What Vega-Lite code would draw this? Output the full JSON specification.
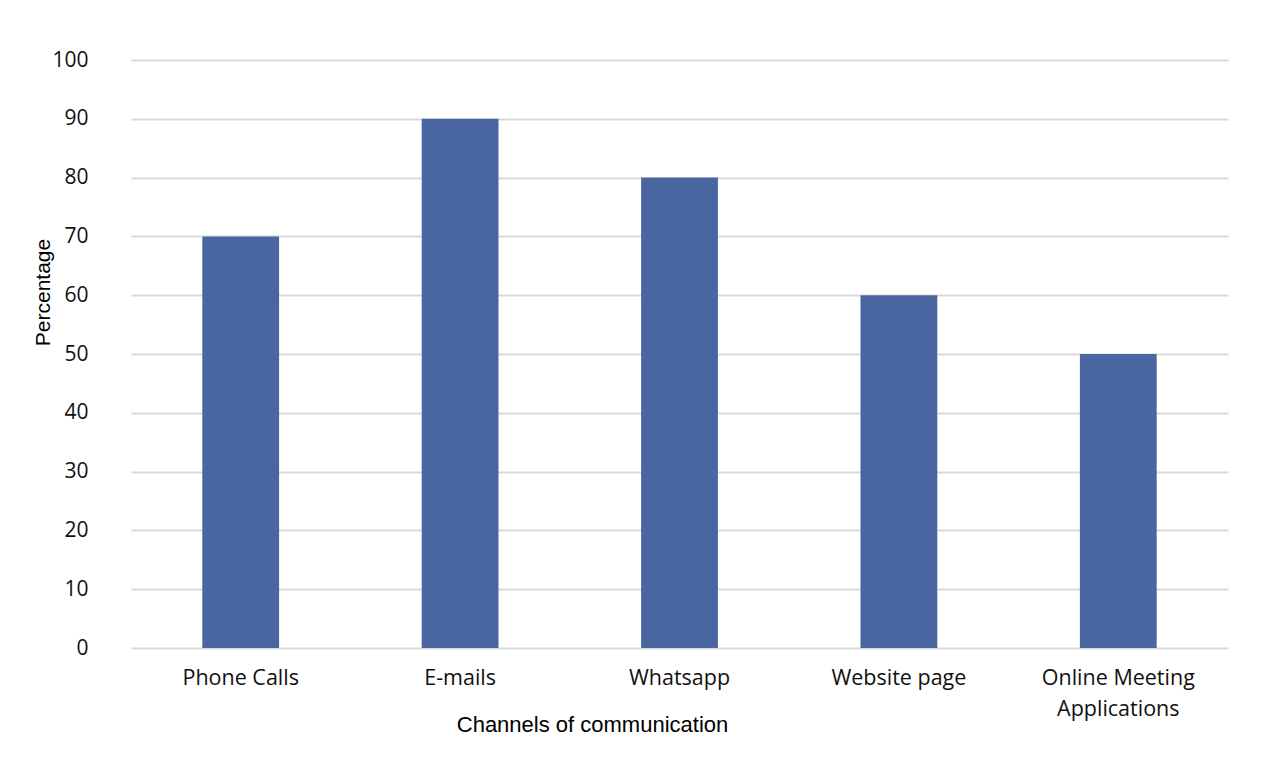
{
  "$schema": "https://vega.github.io/schema/vega-lite/v6.json",
  "width": 1097,
  "height": 588,
  "autosize": {"type": "none"},
  "padding": {"left": 131, "top": 60, "right": 38, "bottom": 119},
  "background": "white",
  "config": {"view": {"stroke": null}},
  "data": {
    "values": [
      {"channel": "Phone Calls", "pct": 70},
      {"channel": "E-mails", "pct": 90},
      {"channel": "Whatsapp", "pct": 80},
      {"channel": "Website  page", "pct": 60},
      {"channel": "Online Meeting Applications", "pct": 50}
    ]
  },
  "mark": {"type": "bar", "color": "#4a66a0"},
  "encoding": {
    "x": {
      "field": "channel",
      "type": "nominal",
      "sort": null,
      "scale": {"paddingInner": 0.65, "paddingOuter": 0.325},
      "axis": {
        "title": "Channels of communication",
        "titleFont": "Liberation Sans",
        "titleFontSize": 22,
        "titleFontWeight": "normal",
        "titleColor": "#000",
        "titleX": 461,
        "titleY": 76,
        "titleBaseline": "middle",
        "labelAngle": 0,
        "labelFont": "Open Sans",
        "labelFontSize": 21.5,
        "labelColor": "#111",
        "labelPadding": 19,
        "labelLineHeight": 31,
        "labelExpr": "datum.value == 'Online Meeting Applications' ? ['Online Meeting', 'Applications'] : datum.label",
        "domain": false,
        "ticks": false
      }
    },
    "y": {
      "field": "pct",
      "type": "quantitative",
      "scale": {"domain": [0, 100]},
      "axis": {
        "title": "Percentage",
        "titleFont": "Liberation Sans",
        "titleFontSize": 21,
        "titleFontWeight": "normal",
        "titleColor": "#000",
        "titleAngle": -90,
        "titleX": -88,
        "titleY": 232,
        "titleBaseline": "middle",
        "titleAlign": "center",
        "values": [0, 10, 20, 30, 40, 50, 60, 70, 80, 90, 100],
        "labelFont": "Open Sans",
        "labelFontSize": 21,
        "labelColor": "#111",
        "labelPadding": 43,
        "domain": false,
        "ticks": false,
        "grid": true,
        "gridColor": "#d9d9d9",
        "gridWidth": 2
      }
    }
  }
}
